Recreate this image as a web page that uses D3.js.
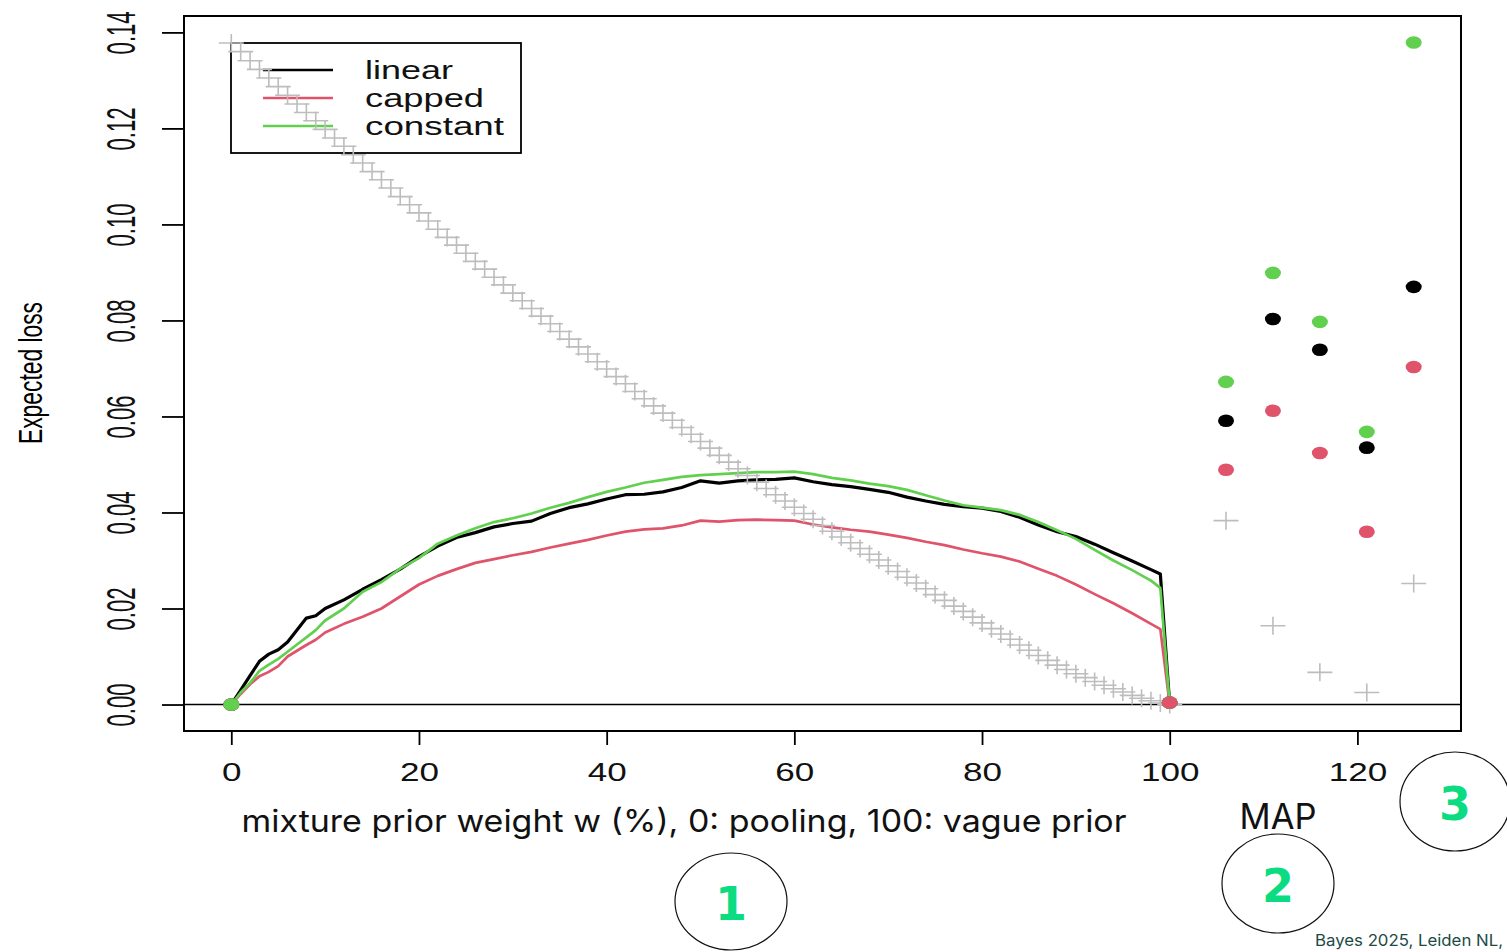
<!DOCTYPE html>
<html>
<head>
<meta charset="utf-8">
<script src="https://cdn.jsdelivr.net/npm/d3@7"></script>
<style>
  body { margin: 0; background: #fff; }
  svg { display: block; }
</style>
</head>
<body>
<div id="chart"></div>
<script>
// mixture prior weight w (%), curve points
var wLine = [0,1,2,3,4,5,6,7,8,9,10,12,14,16,18,20,22,24,26,28,30,32,34,36,38,40,42,44,46,48,
             50,52,54,56,58,60,62,64,66,68,70,72,74,76,78,80,82,84,86,88,90,92,94,96,98,99,100];

var lossLinear = [0,.0030,.0060,.0090,.0105,.0114,.0130,.0155,.0180,.0185,.0200,.0218,.0240,.0260,.0282,.0308,.0330,.0348,.0358,.0370,
                  .0377,.0382,.0398,.0410,.0418,.0428,.0437,.0438,.0443,.0452,.0466,.0461,.0466,.0468,.0469,.0472,.0464,.0458,.0454,.0448,
                  .0442,.0432,.0424,.0417,.0412,.0409,.0402,.0390,.0374,.0360,.0350,.0334,.0316,.0299,.0281,.0272,0];

var lossCapped = [0,.0022,.0042,.0059,.0068,.0080,.0100,.0112,.0124,.0135,.0150,.0168,.0183,.0200,.0225,.0250,.0268,.0282,.0295,.0303,
                  .0311,.0318,.0327,.0335,.0343,.0352,.0360,.0365,.0367,.0373,.0383,.0381,.0384,.0385,.0384,.0383,.0375,.0369,.0364,.0360,
                  .0354,.0347,.0339,.0332,.0323,.0315,.0308,.0298,.0283,.0268,.0250,.0230,.0211,.0190,.0168,.0157,0];

var lossConstant = [0,.0025,.0045,.0070,.0083,.0095,.0110,.0125,.0140,.0155,.0175,.0200,.0235,.0255,.0283,.0305,.0335,.0352,.0367,.0380,
                    .0388,.0398,.0410,.0420,.0432,.0443,.0452,.0462,.0468,.0474,.0478,.0480,.0482,.0484,.0484,.0485,.0480,.0472,.0467,.0460,
                    .0455,.0447,.0436,.0425,.0415,.0410,.0405,.0395,.0380,.0363,.0345,.0322,.0300,.0280,.0258,.0243,0];

// grey "+" reference, one per w = 0..100
var crossLoss = [.1378,.1360,.1341,.1323,.1305,.1287,.1269,.1251,.1233,.1216,.1198,.1180,.1163,.1145,.1128,.1110,.1093,.1076,.1058,.1041,
                 .1024,.1007,.0990,.0973,.0957,.0940,.0923,.0907,.0890,.0874,.0857,.0841,.0825,.0809,.0793,.0777,.0761,.0745,.0730,.0714,
                 .0699,.0683,.0668,.0652,.0637,.0622,.0607,.0592,.0577,.0563,.0548,.0534,.0519,.0505,.0491,.0477,.0463,.0450,.0437,.0424,
                 .0411,.0398,.0386,.0373,.0361,.0349,.0337,.0325,.0313,.0301,.0289,.0277,.0265,.0253,.0241,.0229,.0217,.0205,.0194,.0182,
                 .0170,.0158,.0147,.0136,.0124,.0113,.0102,.0092,.0082,.0073,.0064,.0056,.0048,.0040,.0033,.0026,.0019,.0013,.0008,.0003,0];

// MAP comparisons on the right
var mapX = [106,111,116,121,126];
var mapLinear = [.0591,.0803,.0739,.0535,.0870];
var mapCapped = [.0489,.0612,.0524,.0360,.0703];
var mapConstant = [.0672,.0899,.0797,.0568,.1379];
var mapCross = [.0383,.0164,.0067,.0025,.0252];

var xTicks = [0,20,40,60,80,100,120];
var yTicks = [0,.02,.04,.06,.08,.10,.12,.14];
var legendLabels = ["linear","capped","constant"];
var colors = {linear:"#000000", capped:"#DF536B", constant:"#61D04F"};

var W = 1507, H = 952;
var svg = d3.select("#chart").append("svg").attr("width", W).attr("height", H);
svg.append("rect").attr("width", W).attr("height", H).attr("fill", "#fff");

var box = {left:184, top:16, right:1461, bottom:731};
var x = d3.scaleLinear().domain([-5.04, 131.04]).range([box.left, box.right]);
var y = d3.scaleLinear().domain([-0.005516, 0.143416]).range([box.bottom, box.top]);

// axes
var xAxis = svg.append("g").attr("transform", "translate(0," + box.bottom + ")")
  .call(d3.axisBottom(x).tickValues(xTicks).tickSize(14).tickPadding(18).tickFormat(d3.format("d")));
xAxis.select(".domain").remove();
xAxis.selectAll("line").attr("stroke", "#000").attr("stroke-width", 1.8);
xAxis.selectAll("text")
  .attr("fill", "#111")
  .style("font-family", "Liberation Sans, Arial, sans-serif")
  .style("font-size", "25px")
  .attr("textLength", function(d){ return String(d).length * 19.5; })
  .attr("lengthAdjust", "spacingAndGlyphs");

var yAxis = svg.append("g").attr("transform", "translate(" + box.left + ",0)")
  .call(d3.axisLeft(y).tickValues(yTicks).tickSize(22).tickFormat(d3.format(".2f")));
yAxis.select(".domain").remove();
yAxis.selectAll("line").attr("stroke", "#000").attr("stroke-width", 1.8);
yAxis.selectAll("text")
  .attr("x", null).attr("dy", null)
  .attr("text-anchor", "middle")
  .attr("transform", "translate(-63,0) rotate(-90) translate(0,14)")
  .attr("fill", "#111")
  .style("font-family", "Liberation Sans Narrow, Liberation Sans, Arial, sans-serif")
  .style("font-size", "41px")
  .attr("textLength", 43)
  .attr("lengthAdjust", "spacingAndGlyphs");

svg.append("text")
  .attr("transform", "translate(42,373) rotate(-90)")
  .attr("text-anchor", "middle")
  .style("font-family", "Liberation Sans Narrow, Liberation Sans, Arial, sans-serif")
  .style("font-size", "33px")
  .attr("textLength", 142).attr("lengthAdjust", "spacingAndGlyphs")
  .text("Expected loss");

// plot frame and zero line
svg.append("rect").attr("x", box.left).attr("y", box.top)
  .attr("width", box.right - box.left).attr("height", box.bottom - box.top)
  .attr("fill", "none").attr("stroke", "#000").attr("stroke-width", 2);
svg.append("line").attr("x1", box.left).attr("x2", box.right)
  .attr("y1", y(0)).attr("y2", y(0)).attr("stroke", "#000").attr("stroke-width", 1.5);

// curves
var series = [
  {name:"linear", vals:lossLinear, width:3.2},
  {name:"capped", vals:lossCapped, width:2.7},
  {name:"constant", vals:lossConstant, width:2.7}
];
var line = d3.line()
  .x(function(d, i){ return x(wLine[i]); })
  .y(function(d){ return y(d); });
series.forEach(function(s){
  svg.append("path").datum(s.vals)
    .attr("d", line)
    .attr("fill", "none")
    .attr("stroke", colors[s.name])
    .attr("stroke-width", s.width)
    .attr("stroke-linejoin", "round");
});

// legend
var lg = svg.append("g");
lg.append("rect").attr("x", 231).attr("y", 43).attr("width", 290).attr("height", 110)
  .attr("fill", "none").attr("stroke", "#000").attr("stroke-width", 1.8);
var labLen = {linear:88, capped:119, constant:139};
legendLabels.forEach(function(lab, i){
  var ly = 70 + i * 28;
  lg.append("line").attr("x1", 263).attr("x2", 333).attr("y1", ly).attr("y2", ly)
    .attr("stroke", colors[lab]).attr("stroke-width", 2.6);
  lg.append("text").attr("x", 365).attr("y", ly + 9)
    .style("font-family", "Liberation Sans, Arial, sans-serif")
    .style("font-size", "26px")
    .attr("fill", "#111")
    .attr("textLength", labLen[lab]).attr("lengthAdjust", "spacingAndGlyphs")
    .text(lab);
});

// grey crosses
var crossPath = "M-12.5,0H12.5M0,-9V9";
var crossPts = crossLoss.map(function(v, i){ return {w:i, v:v}; })
  .concat(mapX.map(function(w, i){ return {w:w, v:mapCross[i]}; }));
svg.append("g").selectAll("path").data(crossPts).enter().append("path")
  .attr("d", crossPath)
  .attr("transform", function(d){ return "translate(" + x(d.w) + "," + y(d.v) + ")"; })
  .attr("fill", "none").attr("stroke", "#bdbdbd").attr("stroke-width", 1.6);

// end points of curves and MAP points
var dots = [];
[["linear",lossLinear],["capped",lossCapped],["constant",lossConstant]].forEach(function(p){
  dots.push({w:wLine[0], v:p[1][0], c:colors[p[0]]});
});
[["linear",lossLinear],["constant",lossConstant],["capped",lossCapped]].forEach(function(p){
  dots.push({w:wLine[wLine.length-1], v:p[1][p[1].length-1] + 0.0004, c:colors[p[0]]});
});
mapX.forEach(function(w, i){
  dots.push({w:w, v:mapLinear[i], c:colors.linear});
  dots.push({w:w, v:mapCapped[i], c:colors.capped});
  dots.push({w:w, v:mapConstant[i], c:colors.constant});
});
svg.append("g").selectAll("ellipse").data(dots).enter().append("ellipse")
  .attr("cx", function(d){ return x(d.w); })
  .attr("cy", function(d){ return y(d.v); })
  .attr("rx", 8).attr("ry", 6.3)
  .attr("fill", function(d){ return d.c; });

// annotations
svg.append("text").attr("x", 684).attr("y", 832).attr("text-anchor", "middle")
  .style("font-family", "Inter, Noto Sans, sans-serif").style("font-size", "31px")
  .attr("fill", "#111")
  .attr("textLength", 885).attr("lengthAdjust", "spacingAndGlyphs")
  .text("mixture prior weight w (%), 0: pooling, 100: vague prior");
svg.append("text").attr("x", 1278).attr("y", 829).attr("text-anchor", "middle")
  .style("font-family", "Inter, Noto Sans, sans-serif").style("font-size", "35px")
  .attr("fill", "#111")
  .attr("textLength", 77).attr("lengthAdjust", "spacingAndGlyphs")
  .text("MAP");

var marks = [
  {label:"1", cx:731, cy:901.5, rx:56, ry:48.5},
  {label:"2", cx:1278, cy:883.5, rx:56, ry:49.5},
  {label:"3", cx:1455, cy:801.5, rx:55, ry:49.5}
];
marks.forEach(function(m){
  svg.append("ellipse").attr("cx", m.cx).attr("cy", m.cy).attr("rx", m.rx).attr("ry", m.ry)
    .attr("fill", "none").attr("stroke", "#111").attr("stroke-width", 1.2);
  svg.append("text").attr("x", m.cx).attr("y", m.cy + 18).attr("text-anchor", "middle")
    .style("font-family", "DejaVu Sans, sans-serif").style("font-weight", "bold").style("font-size", "46px")
    .attr("fill", "#0BDC82")
    .text(m.label);
});

svg.append("text").attr("x", 1503).attr("y", 946).attr("text-anchor", "end")
  .style("font-family", "Inter, Noto Sans, sans-serif").style("font-size", "16px")
  .attr("fill", "#1d4a45")
  .attr("textLength", 188).attr("lengthAdjust", "spacingAndGlyphs")
  .text("Bayes 2025, Leiden NL,");
</script>
</body>
</html>
